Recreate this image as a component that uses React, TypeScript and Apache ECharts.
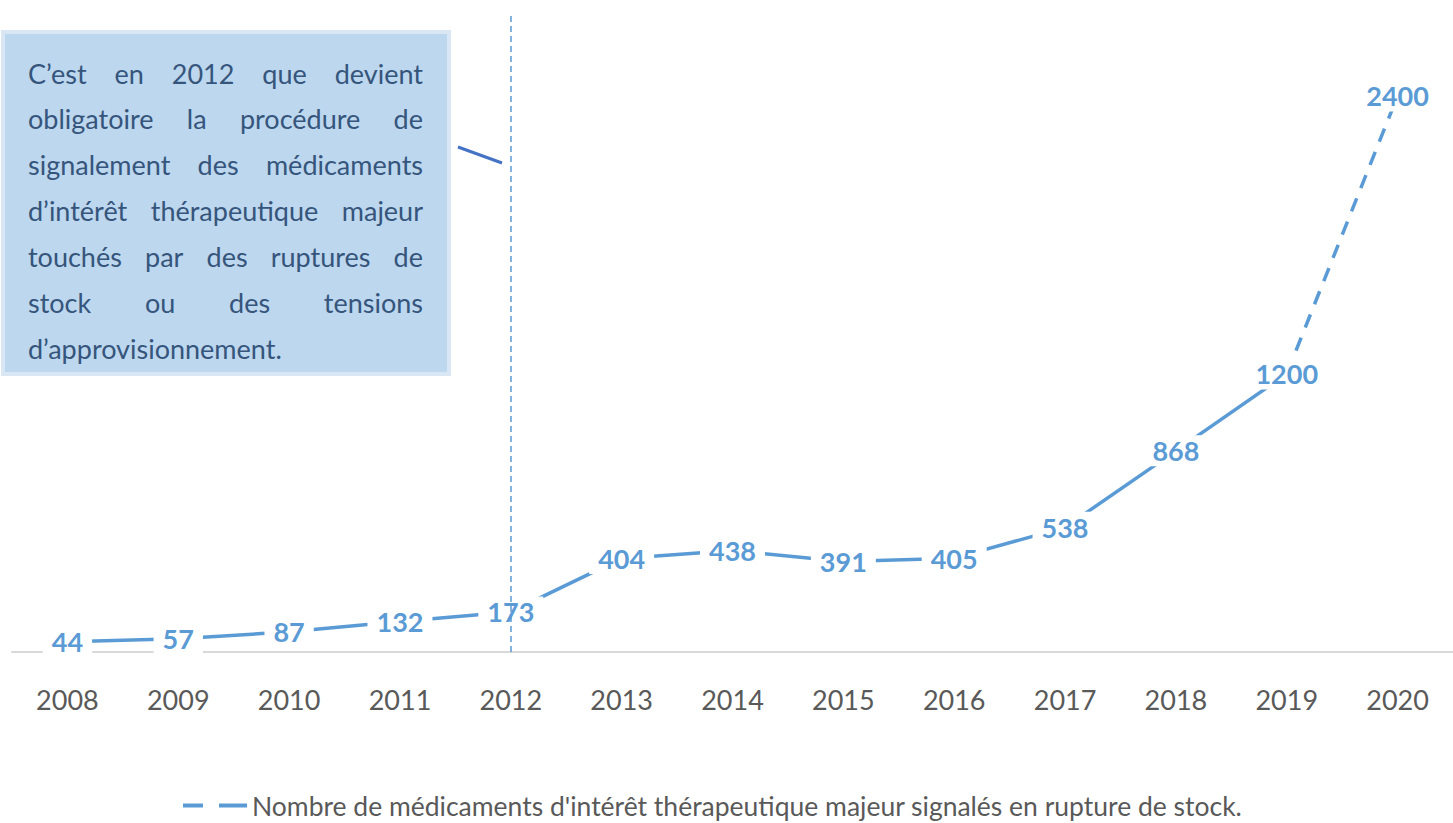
import React, { useEffect, useRef } from "react";
import * as echarts from "echarts";

const years = ["2008","2009","2010","2011","2012","2013","2014","2015","2016","2017","2018","2019","2020"];
const counts = [44, 57, 87, 132, 173, 404, 438, 391, 405, 538, 868, 1200, 2400];
const seriesName = "Nombre de médicaments d'intérêt thérapeutique majeur signalés en rupture de stock.";
const noteLines = [
  "C’est en 2012 que devient",
  "obligatoire la procédure de",
  "signalement des médicaments",
  "d’intérêt thérapeutique majeur",
  "touchés par des ruptures de",
  "stock ou des tensions",
  "d’approvisionnement.",
];
const markYear = "2012";

const FONT = "Lato";
const BLUE = "#5b9bd5";

function buildNote(): any[] {
  const size = 27;
  const canvas = document.createElement("canvas");
  const ctx = canvas.getContext("2d")!;
  ctx.font = `${size}px ${FONT}`;
  const left = 28, right = 423, y0 = 73, step = 45.9;
  const els: any[] = [];
  noteLines.forEach((line, i) => {
    const words = line.split(" ");
    const y = y0 + i * step;
    const last = i === noteLines.length - 1;
    const widths = words.map((w) => ctx.measureText(w).width);
    const total = widths.reduce((a, b) => a + b, 0);
    const gap = last || words.length < 2 ? ctx.measureText(" ").width : (right - left - total) / (words.length - 1);
    let x = left;
    words.forEach((w, j) => {
      els.push({
        type: "text",
        x,
        y,
        z: 20,
        style: { text: w, fontSize: size, fontFamily: FONT, fill: "#35557c", verticalAlign: "middle" },
      });
      x += widths[j] + gap;
    });
  });
  return els;
}

export default function App() {
  const ref = useRef<HTMLDivElement>(null);
  useEffect(() => {
    document.body.style.margin = "0";
    const chart = echarts.init(ref.current!, null, { renderer: "svg" });
    const last = counts.length - 1;
    const solidData = counts.map((v, i) => (i < last ? v : null));
    const dashData = counts.map((v, i) =>
      i < last - 1 ? null : i === last ? v : { value: v, label: { show: false } }
    );
    const labelStyle = {
      show: true,
      position: "inside",
      color: BLUE,
      fontFamily: FONT,
      fontWeight: "bold",
      fontSize: 27,
      backgroundColor: "#ffffff",
      padding: [2, 9, 2, 9],
    };
    chart.setOption({
      animation: false,
      grid: { left: 12, top: 12, width: 1446, height: 640 },
      xAxis: {
        type: "category",
        data: years,
        boundaryGap: true,
        axisLine: { lineStyle: { color: "#d9d9d9", width: 2 } },
        axisTick: { show: false },
        axisLabel: { color: "#595959", fontFamily: FONT, fontSize: 27, margin: 34 },
        splitLine: { show: false },
      },
      yAxis: {
        type: "value",
        min: 0,
        max: 2762,
        show: false,
        splitLine: { show: false },
      },
      legend: {
        show: true,
        left: 178,
        top: 787,
        itemWidth: 64,
        itemHeight: 4,
        itemGap: 5,
        data: [{ name: seriesName, icon: "path://M0,0H20V4H0Z M36,0H64V4H36Z" }],
        textStyle: { color: "#595959", fontFamily: FONT, fontSize: 26.5 },
      },
      series: [
        {
          name: seriesName,
          type: "line",
          data: solidData,
          z: 3,
          showSymbol: true,
          symbol: "circle",
          symbolSize: 2,
          itemStyle: { color: BLUE },
          lineStyle: { color: BLUE, width: 3.5 },
          label: labelStyle,
          markLine: {
            silent: true,
            symbol: "none",
            label: { show: false },
            lineStyle: { color: BLUE, width: 1.5, type: [6, 4] },
            data: [{ xAxis: markYear }],
          },
        },
        {
          name: seriesName,
          type: "line",
          data: dashData,
          z: 2,
          showSymbol: true,
          symbol: "circle",
          symbolSize: 2,
          itemStyle: { color: BLUE },
          lineStyle: { color: BLUE, width: 3.5, type: [14, 11] },
          label: labelStyle,
        },
      ],
      graphic: [
        {
          type: "rect",
          z: 15,
          shape: { x: 3, y: 32, width: 446, height: 342 },
          style: { fill: "#bdd7ee", stroke: "#d9e7f5", lineWidth: 4 },
        },
        {
          type: "line",
          z: 15,
          shape: { x1: 458, y1: 147, x2: 502, y2: 163 },
          style: { stroke: "#4472c4", lineWidth: 3 },
        },
        ...buildNote(),
      ],
    });
    return () => chart.dispose();
  }, []);
  return <div ref={ref} style={{ position: "absolute", left: 0, top: 0, width: 1453, height: 823 }} />;
}
